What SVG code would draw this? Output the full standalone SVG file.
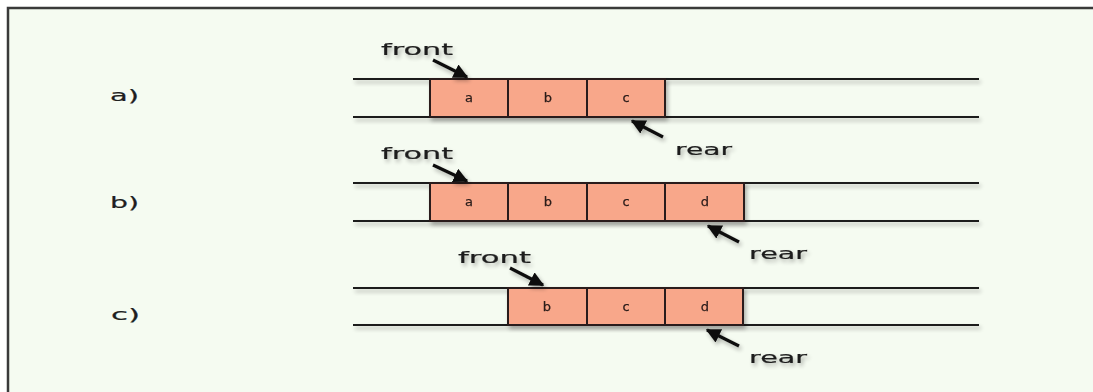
<svg xmlns="http://www.w3.org/2000/svg" width="1093" height="392" viewBox="0 0 1093 392">
  <defs>
    <style>
      .rail { stroke: #1e1e1e; stroke-width: 2; fill: none; }
      .cell rect { fill: #f8a78a; stroke: #2a1c1a; stroke-width: 2; }
      .cell text { font-family: "DejaVu Sans", "Liberation Sans", sans-serif; font-size: 13px; fill: #2a1c1a; stroke: #2a1c1a; stroke-width: 0.25; text-anchor: middle; }
      .lbl { font-family: "DejaVu Sans", "Liberation Sans", sans-serif; font-size: 16px; fill: #1e1e1e; stroke: #1e1e1e; stroke-width: 0.2; }
      .ptr { stroke: #111; stroke-width: 3.2; fill: none; marker-end: url(#head); }
    </style>
    <marker id="head" viewBox="0 0 10 10" refX="9" refY="5" markerWidth="4.6" markerHeight="4.6" orient="auto" markerUnits="strokeWidth">
      <path d="M0,0 L10,5 L0,10 Z" fill="#111"/>
    </marker>
    <filter id="shade" x="-10%" y="-30%" width="130%" height="180%">
      <feGaussianBlur in="SourceAlpha" stdDeviation="2"/>
      <feOffset dx="2" dy="3" result="b"/>
      <feComponentTransfer><feFuncA type="linear" slope="0.3"/></feComponentTransfer>
      <feMerge><feMergeNode/><feMergeNode in="SourceGraphic"/></feMerge>
    </filter>
  </defs>

  <!-- page -->
  <rect x="0" y="0" width="1093" height="392" fill="#ffffff"/>
  <rect x="8" y="8" width="1100" height="400" fill="#f5fbf1" stroke="#3a3a3a" stroke-width="2.5"/>

  <!-- row labels -->
  <g id="label-a"><text class="lbl" x="110" y="101" textLength="29" lengthAdjust="spacingAndGlyphs">a)</text></g>
  <g id="label-b"><text class="lbl" x="110" y="208" textLength="29" lengthAdjust="spacingAndGlyphs">b)</text></g>
  <g id="label-c"><text class="lbl" x="111" y="320" textLength="29" lengthAdjust="spacingAndGlyphs">c)</text></g>

  <!-- queue rails -->
  <g id="rails" filter="url(#shade)">
    <line class="rail" x1="353" y1="79" x2="979" y2="79"/>
    <line class="rail" x1="353" y1="117" x2="979" y2="117"/>
    <line class="rail" x1="353" y1="183" x2="979" y2="183"/>
    <line class="rail" x1="353" y1="221" x2="979" y2="221"/>
    <line class="rail" x1="353" y1="288" x2="979" y2="288"/>
    <line class="rail" x1="353" y1="325" x2="979" y2="325"/>
  </g>

  <!-- row a cells -->
  <g id="a-cells" filter="url(#shade)">
    <g id="a-a" class="cell"><rect x="430" y="79" width="78" height="38"/><text x="469" y="102">a</text></g>
    <g id="a-b" class="cell"><rect x="508" y="79" width="79" height="38"/><text x="548" y="102">b</text></g>
    <g id="a-c" class="cell"><rect x="587" y="79" width="78" height="38"/><text x="626" y="102">c</text></g>
  </g>

  <!-- row b cells -->
  <g id="b-cells" filter="url(#shade)">
    <g id="b-a" class="cell"><rect x="430" y="183" width="78" height="38"/><text x="469" y="206">a</text></g>
    <g id="b-b" class="cell"><rect x="508" y="183" width="79" height="38"/><text x="548" y="206">b</text></g>
    <g id="b-c" class="cell"><rect x="587" y="183" width="78" height="38"/><text x="626" y="206">c</text></g>
    <g id="b-d" class="cell"><rect x="665" y="183" width="79" height="38"/><text x="705" y="206">d</text></g>
  </g>

  <!-- row c cells -->
  <g id="c-cells" filter="url(#shade)">
    <g id="c-b" class="cell"><rect x="508" y="288" width="79" height="37"/><text x="547" y="311">b</text></g>
    <g id="c-c" class="cell"><rect x="587" y="288" width="78" height="37"/><text x="626" y="311">c</text></g>
    <g id="c-d" class="cell"><rect x="665" y="288" width="78" height="37"/><text x="705" y="311">d</text></g>
  </g>

  <!-- pointer names -->
  <g id="names" filter="url(#shade)">
    <text class="lbl" x="381" y="55" textLength="72" lengthAdjust="spacingAndGlyphs">front</text>
    <text class="lbl" x="675" y="155" textLength="57" lengthAdjust="spacingAndGlyphs">rear</text>
    <text class="lbl" x="381" y="159" textLength="72" lengthAdjust="spacingAndGlyphs">front</text>
    <text class="lbl" x="749" y="259" textLength="58" lengthAdjust="spacingAndGlyphs">rear</text>
    <text class="lbl" x="458" y="263" textLength="73" lengthAdjust="spacingAndGlyphs">front</text>
    <text class="lbl" x="749" y="363" textLength="58" lengthAdjust="spacingAndGlyphs">rear</text>
  </g>

  <!-- pointer arrows -->
  <g id="connectors" filter="url(#shade)">
    <line class="ptr" x1="433" y1="60" x2="467" y2="77"/>
    <line class="ptr" x1="663" y1="137" x2="632" y2="121"/>
    <line class="ptr" x1="433" y1="165" x2="467" y2="181"/>
    <line class="ptr" x1="739" y1="242" x2="708" y2="226"/>
    <line class="ptr" x1="510" y1="268" x2="543" y2="285"/>
    <line class="ptr" x1="739" y1="346" x2="707" y2="330"/>
  </g>
</svg>
